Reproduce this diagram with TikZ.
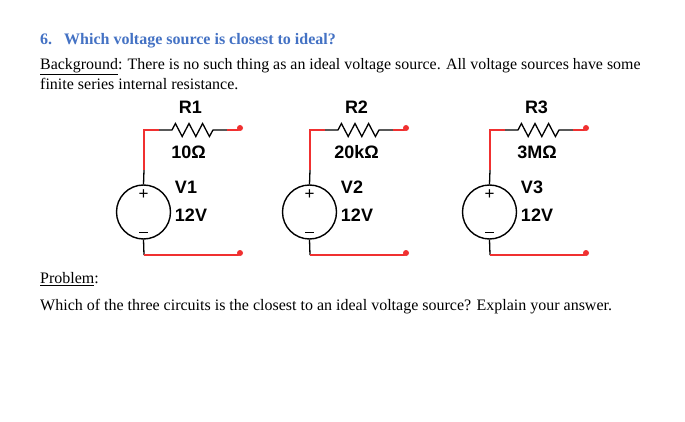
\documentclass[tikz,border=0pt]{standalone}
\usepackage{fontspec}
\setmainfont{Liberation Serif}
\newfontfamily\lab{Liberation Sans}
\definecolor{headblue}{HTML}{4472C4}
\definecolor{wirered}{HTML}{F03030}
\tikzset{
  body/.style={inner sep=0pt,anchor=base west,font=\fontsize{16}{18}\selectfont},
  bodytop/.style={inner sep=0pt,anchor=base west,font=\fontsize{15.92}{18}\selectfont},
  head/.style={inner sep=0pt,anchor=base west,text=headblue,font=\fontsize{16}{18}\selectfont\bfseries},
  lbl/.style={inner sep=0pt,font=\lab\fontsize{18}{20}\selectfont\bfseries},
  src/.style={circle,draw=black,line width=1.4pt,minimum size=54pt,inner sep=0pt},
  polarity/.style={inner sep=0pt,font=\lab\fontsize{17}{17}\selectfont},
  red wire/.style={draw=wirered,line width=1.8pt},
  blk wire/.style={draw=black,line width=1.3pt},
  term/.style={circle,fill=wirered,inner sep=0pt,minimum size=6pt},
}
\begin{document}
\begin{tikzpicture}[x=1pt,y=-1pt]
\useasboundingbox (0,0) rectangle (685,422);
\fill[white] (0,0) rectangle (685,422);
\node[head] (q) at (40,44.5) {6.};
\node[head] (qt) at (64,44.5) {Which voltage source is closest to ideal?};
\node[bodytop] (b1) at (40,69.5) {\underline{Background}: There is no such thing as an ideal voltage source. All voltage sources have some};
\node[body] (b2) at (40,89.5) {finite series internal resistance.};
\node[body] (p1) at (40,283.5) {\underline{Problem}:};
\node[body] (p2) at (40,310.5) {Which of the three circuits is the closest to an ideal voltage source? Explain your answer.};
\foreach \i/\dx/\rn/\rv/\vn/\ox in {1/0/R1/10Ω/V1/188.5,2/166/R2/20kΩ/V2/190.5,3/346/R3/3MΩ/V3/191}{
  \begin{scope}[xshift=\dx pt]
    \node[src] (s\i) at (143.5,212) {};
    \node[polarity] (sp\i) at (143.5,195) {+};
    \node[polarity] (sm\i) at (143.5,232) {\rule{8.5pt}{1pt}};
    \node[lbl] (rn\i) at (190.5,107) {\rn};
    \node[lbl] (rv\i) at (\ox,152) {\rv};
    \node[lbl] (vn\i) at (186,187) {\vn};
    \node[lbl] (vv\i) at (191,215) {12V};
    \coordinate (tl\i) at (144,130);
    \coordinate (st\i) at (144,170);
    \coordinate (a\i) at (159,130);
    \coordinate (r\i) at (172,130);
    \coordinate (e\i) at (213,130);
    \coordinate (b\i) at (227,130);
    \coordinate (bl\i) at (144,255);
    \coordinate (ct\i) at (238,130);
    \coordinate (cb\i) at (238,255);
    \node[term] (tt\i) at (240,128) {};
    \node[term] (tb\i) at (240,253) {};
    \draw[blk wire] (s\i.north) -- (st\i);
    \draw[red wire] (st\i) -- (tl\i) -- (a\i);
    \draw[blk wire] (a\i) -- (r\i) -- ++(3.4,-6.5) -- ++(6.8,13) -- ++(6.8,-13) -- ++(6.8,13) -- ++(6.8,-13) -- ++(6.8,13) -- (e\i) -- (b\i);
    \draw[red wire] (b\i) -- (ct\i) -- (tt\i);
    \draw[blk wire] (s\i.south) -- (bl\i);
    \draw[red wire] (bl\i) -- (cb\i) -- (tb\i);
  \end{scope}
}
\end{tikzpicture}
\end{document}
